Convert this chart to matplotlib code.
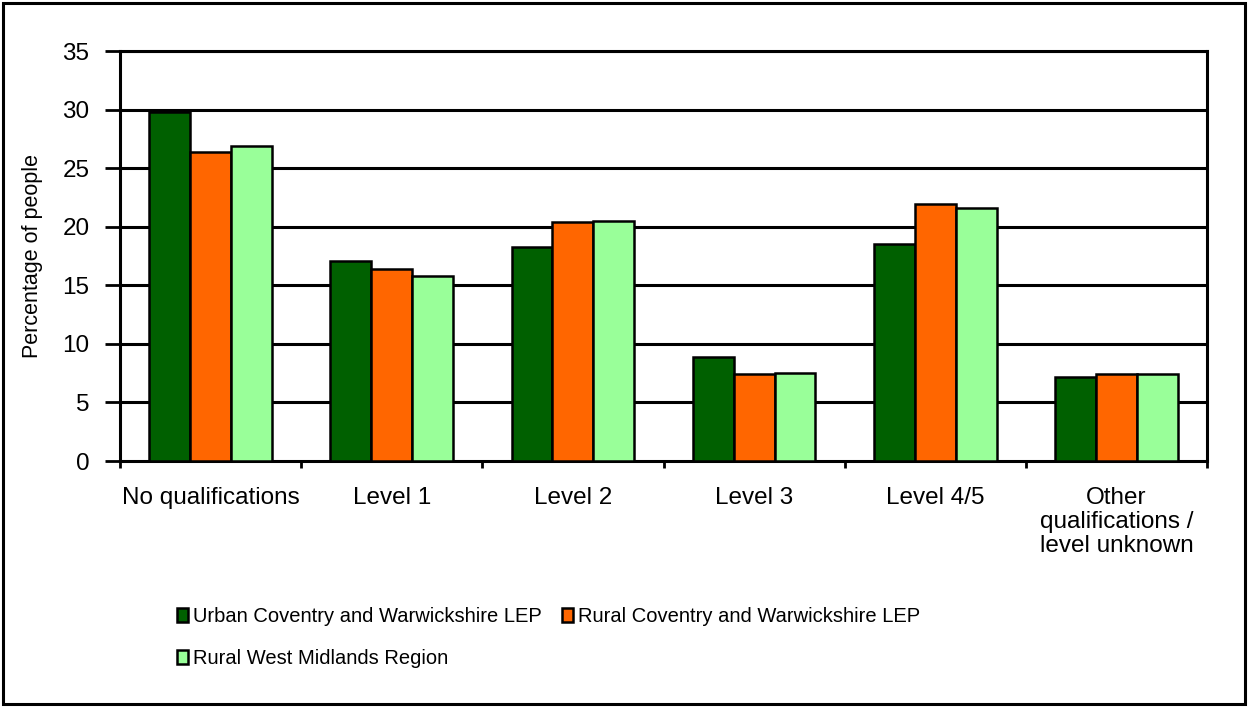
import matplotlib
matplotlib.use("Agg")
import matplotlib.pyplot as plt
import numpy as np
from matplotlib.patches import Rectangle

plt.rcParams['font.family'] = ['Liberation Sans', 'DejaVu Sans']

categories = ["No qualifications", "Level 1", "Level 2", "Level 3", "Level 4/5",
              "Other\nqualifications /\nlevel unknown"]
series_names = ["Urban Coventry and Warwickshire LEP",
                "Rural Coventry and Warwickshire LEP",
                "Rural West Midlands Region"]
urban_cw = [29.8, 17.1, 18.3, 8.9, 18.5, 7.2]
rural_cw = [26.4, 16.4, 20.4, 7.4, 21.9, 7.4]
rural_wm = [26.9, 15.8, 20.5, 7.5, 21.6, 7.4]
colors = ["#006000", "#FF6600", "#99FF99"]
y_ticks = [0, 5, 10, 15, 20, 25, 30, 35]

W, H = 1248, 707
fig = plt.figure(figsize=(W / 100, H / 100), dpi=100)
fig.patches.append(Rectangle((3 / W, 3 / H), 1 - 6 / W, 1 - 6 / H, transform=fig.transFigure,
                             fill=False, edgecolor="black", linewidth=2.2, zorder=10))

ax = fig.add_axes([120 / W, 1 - 461 / H, (1207 - 120) / W, (461 - 51) / H])

n = len(categories)
x = np.arange(n) + 0.5
bw = 0.226
for i, (vals, c) in enumerate(zip([urban_cw, rural_cw, rural_wm], colors)):
    ax.bar(x + (i - 1) * bw, vals, width=bw, color=c, edgecolor="black",
           linewidth=1.8, label=series_names[i], zorder=3)

ax.set_xlim(0, n)
ax.set_ylim(0, 35)
ax.set_yticks(y_ticks)
ax.set_yticklabels([str(v) for v in y_ticks], fontsize=17.5)
for v in y_ticks[1:]:
    ax.axhline(v, color="black", linewidth=2.2, zorder=1)

ax.set_xticks(np.arange(n + 1))
ax.set_xticklabels([])
ax.set_xticks(x, minor=True)
ax.set_xticklabels(categories, minor=True, fontsize=17.5, linespacing=1.1)
ax.tick_params(axis="x", which="minor", length=0, pad=19)
ax.tick_params(axis="x", which="major", length=5, width=2, direction="out")
ax.tick_params(axis="y", length=11, width=2, direction="out", pad=11)

for s in ax.spines.values():
    s.set_linewidth(2.2)
    s.set_color("black")

ax.set_ylabel("Percentage of people", fontsize=15.5)
ax.yaxis.set_label_coords(-0.071, 0.5)

handles, labels = ax.get_legend_handles_labels()
order = [0, 2, 1]
leg = fig.legend([handles[i] for i in order], [labels[i] for i in order],
                 ncol=2, loc="upper left", bbox_to_anchor=(177 / W, 1 - 607 / H),
                 frameon=False, fontsize=14.5,
                 handlelength=0.55, handleheight=0.65, borderpad=0, borderaxespad=0,
                 handletextpad=0.25, columnspacing=1.0, labelspacing=1.15)

fig.savefig("out.png", dpi=100)
